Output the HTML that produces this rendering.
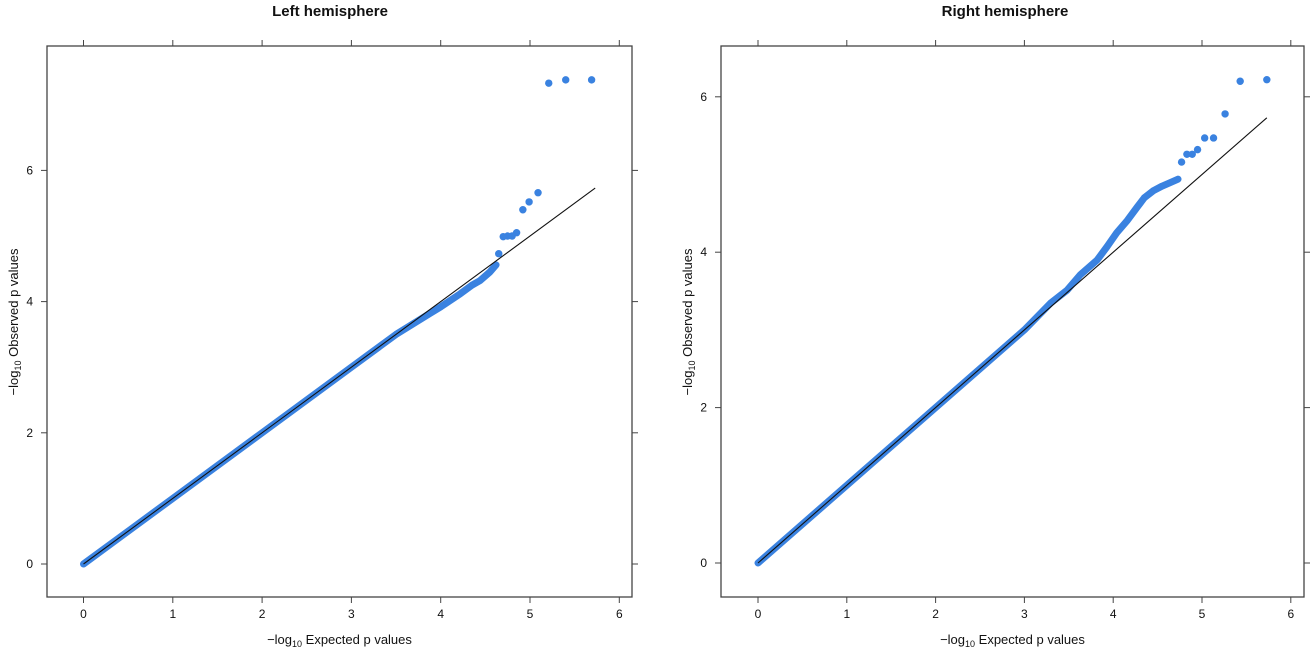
<!DOCTYPE html>
<html><head><meta charset="utf-8"><style>
body{margin:0;background:#fff}
svg{display:block;font-family:"Liberation Sans",Arial,sans-serif}
</style></head><body>
<svg id="c" width="1311" height="647"></svg>
<script>
const xTicks=[0,1,2,3,4,5,6];
const yTicks=[0,2,4,6];
const leftBodyX=[0,1,2,3,3.5,3.88,4.0,4.22,4.35,4.44,4.55,4.62];
const leftBodyY=[0,1,2,3,3.5,3.82,3.92,4.12,4.25,4.32,4.45,4.56];
const leftOutX=[4.65,4.70,4.75,4.80,4.85,4.92,4.99,5.09,5.21,5.40,5.69];
const leftOutY=[4.73,4.99,5.0,5.0,5.05,5.40,5.52,5.66,7.33,7.38,7.38];
const rightBodyX=[0,2,3,3.3,3.48,3.63,3.82,3.93,4.04,4.16,4.27,4.35,4.45,4.55,4.65,4.73];
const rightBodyY=[0,2,3,3.35,3.51,3.71,3.90,4.07,4.25,4.41,4.58,4.70,4.79,4.85,4.90,4.94];
const rightOutX=[4.77,4.83,4.89,4.95,5.03,5.13,5.26,5.43,5.73];
const rightOutY=[5.16,5.26,5.26,5.32,5.47,5.47,5.78,6.20,6.22];
const refMax=5.73;
const NS="http://www.w3.org/2000/svg";
const svg=document.getElementById('c');
function mk(t,a,p){const e=document.createElementNS(NS,t);for(const k in a)e.setAttribute(k,a[k]);(p||svg).appendChild(e);return e;}
function panel(o){
  const g=mk('g',{});
  
  
  const X=v=>o.x0+v*o.xs, Y=v=>o.y0-v*o.ys;
  const fr=mk('rect',{x:o.fl,y:46,width:o.fr-o.fl,height:551,fill:'none',stroke:'#444','stroke-width':1.3},g);
  
  
  xTicks.forEach(t=>{
    mk('line',{x1:X(t),x2:X(t),y1:597,y2:603,stroke:'#444'},g);
    mk('line',{x1:X(t),x2:X(t),y1:46,y2:40,stroke:'#444'},g);
    const tx=mk('text',{x:X(t),y:618,'font-size':12,'text-anchor':'middle',fill:'#111'},g);
    tx.textContent=t;
    
    
  });
  yTicks.forEach(t=>{
    mk('line',{x1:o.fl,x2:o.fl-6,y1:Y(t),y2:Y(t),stroke:'#444'},g);
    mk('line',{x1:o.fr,x2:o.fr+6,y1:Y(t),y2:Y(t),stroke:'#444'},g);
    const tx=mk('text',{x:o.fl-14,y:Y(t)+4,'font-size':12,'text-anchor':'end',fill:'#111'},g);
    tx.textContent=t;
    
    
  });
  const body=mk('polyline',{points:o.bx.map((v,i)=>X(v)+','+Y(o.by[i])).join(' '),fill:'none',stroke:'#3a82e0','stroke-width':7,'stroke-linecap':'round','stroke-linejoin':'round'},g);
  
  
  o.ox.forEach((v,i)=>{
    const c=mk('circle',{cx:X(v),cy:Y(o.oy[i]),r:3.7,fill:'#3a82e0'},g);
    
    
  });
  const rl=mk('line',{x1:X(0),y1:Y(0),x2:X(refMax),y2:Y(refMax),stroke:'#111','stroke-width':1.1},g);
  
  
  const ti=mk('text',{x:o.tx,y:16,'font-size':15,'font-weight':'bold','text-anchor':'middle',fill:'#111'},g);
  ti.textContent=o.title;
  
  
  const xl=mk('text',{x:(o.fl+o.fr)/2,y:644,'font-size':13,'text-anchor':'middle',fill:'#111'},g);
  xl.innerHTML='\u2212log<tspan font-size="9" dy="3">10</tspan><tspan dy="-3"> Expected p values</tspan>';
  
  
  const yl=mk('text',{x:0,y:0,'font-size':13,'text-anchor':'middle',fill:'#111',transform:`translate(${o.fl-29},322) rotate(-90)`},g);
  yl.innerHTML='\u2212log<tspan font-size="9" dy="3">10</tspan><tspan dy="-3"> Observed p values</tspan>';
  
  
}
panel({name:'left-hemisphere-panel',title:'Left hemisphere',tx:330,fl:47,fr:632,x0:83.5,xs:89.3,y0:564,ys:65.6,bx:leftBodyX,by:leftBodyY,ox:leftOutX,oy:leftOutY});
panel({name:'right-hemisphere-panel',title:'Right hemisphere',tx:1005,fl:721,fr:1304,x0:758,xs:88.8,y0:563,ys:77.7,bx:rightBodyX,by:rightBodyY,ox:rightOutX,oy:rightOutY});
</script>
</body></html>
